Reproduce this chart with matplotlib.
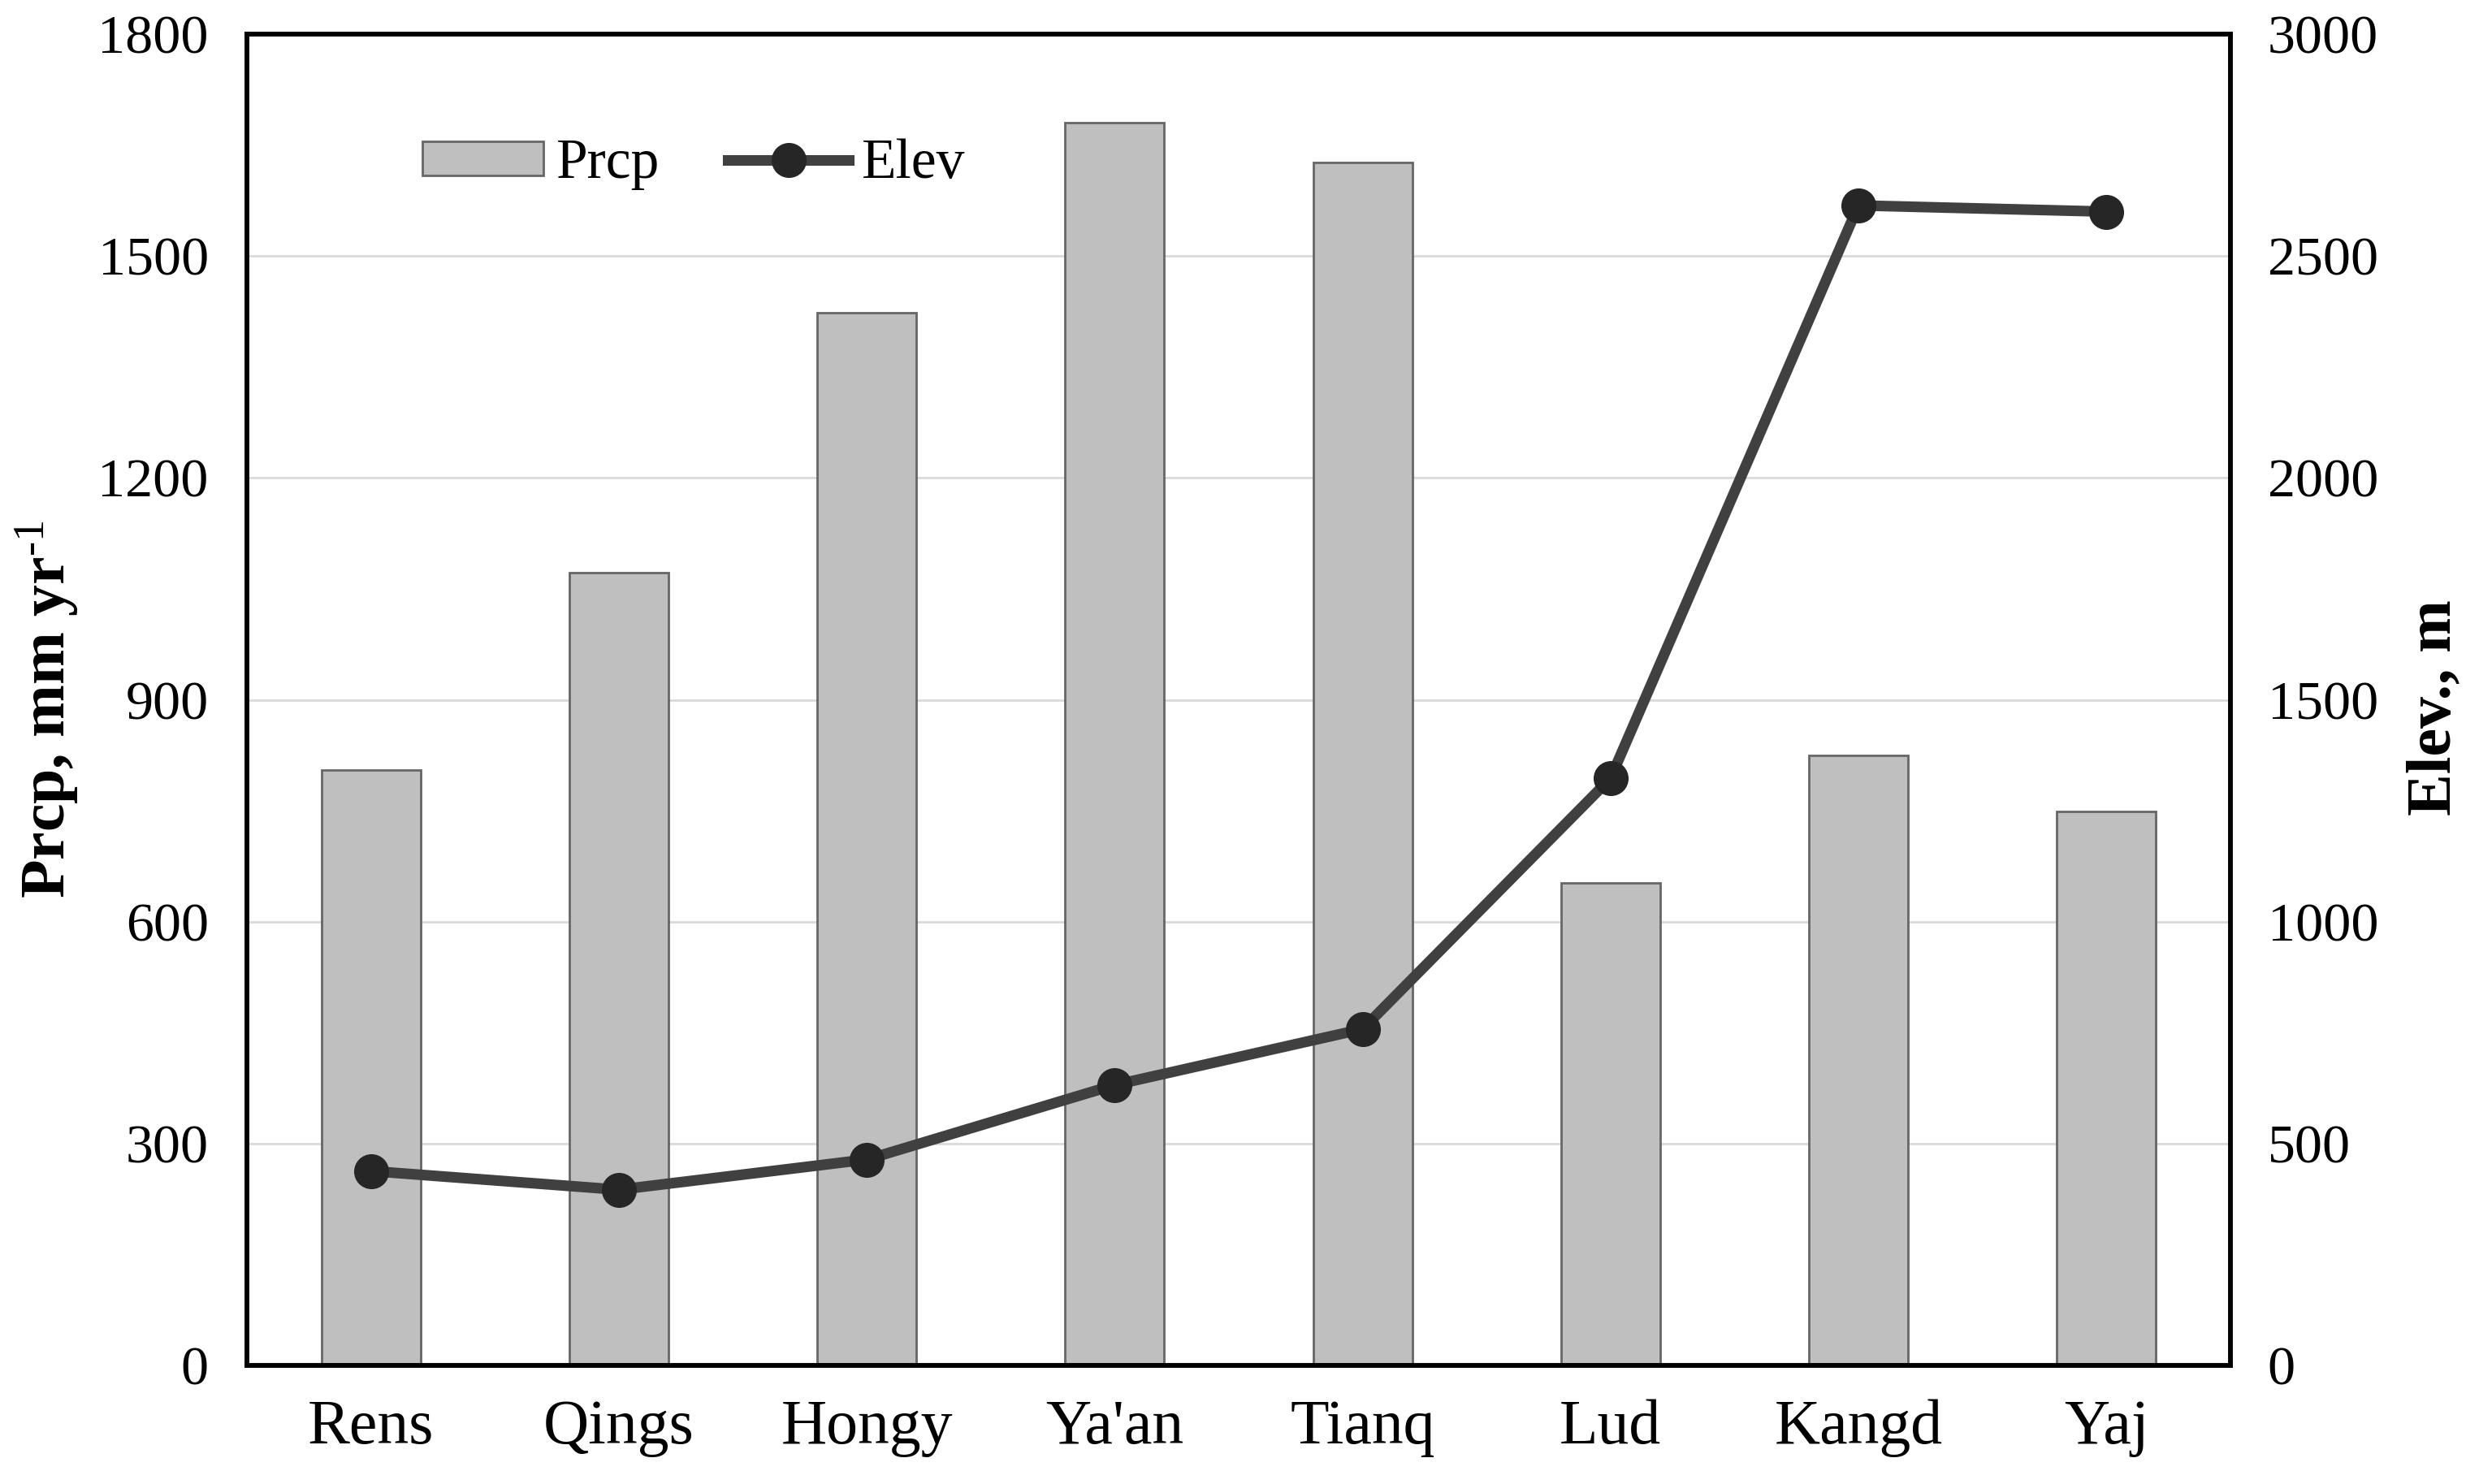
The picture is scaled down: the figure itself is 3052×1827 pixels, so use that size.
"""
Prcp (bars) and Elev (line) by station, two y axes
"""
import numpy as np
import matplotlib
matplotlib.use("Agg")
import matplotlib.pyplot as plt

plt.rcParams['font.family'] = ['Liberation Serif', 'DejaVu Serif']
plt.rcParams['mathtext.fontset'] = 'custom'
plt.rcParams['mathtext.rm'] = 'Liberation Serif'
plt.rcParams['mathtext.bf'] = 'Liberation Serif:bold'
plt.rcParams['mathtext.default'] = 'regular'

# Datos
stations = ["Rens", "Qings", "Hongy", "Ya'an", "Tianq", "Lud", "Kangd", "Yaj"]
prcp = [805, 1072, 1423, 1680, 1627, 652, 825, 749]      # mm/yr
elev = [438, 396, 464, 632, 758, 1323, 2614, 2600]       # m
prcp_ticks = [0, 300, 600, 900, 1200, 1500, 1800]
elev_ticks = [0, 500, 1000, 1500, 2000, 2500, 3000]

x = np.arange(len(stations))

fig = plt.figure(figsize=(15.26, 9.135), dpi=200)
ax = fig.add_axes([0.0996, 0.0799, 0.8001, 0.8971])
ax2 = ax.twinx()

# Barras de precipitación
bars = ax.bar(x, prcp, width=0.40, color='#bfbfbf', edgecolor='#666666',
              linewidth=1.0, zorder=2, label='Prcp')
ax.set_xlim(-0.5, len(stations) - 0.5)
ax.set_ylim(0, 1800)
ax.set_yticks(prcp_ticks)
ax.grid(axis='y', color='#d9d9d9', linewidth=1.0, zorder=0)
ax.set_axisbelow(True)
ax.set_xticks(x)
ax.set_xticklabels(stations, fontsize=28)
ax.tick_params(axis='x', length=0, pad=15)
ax.tick_params(axis='y', length=0, pad=17, labelsize=24.5)

# Línea de elevación
line, = ax2.plot(x, elev, color='#404040', linewidth=4.7, marker='o',
                 markersize=14.5, markerfacecolor='#262626',
                 markeredgecolor='#262626', zorder=3, label='Elev')
ax2.set_ylim(0, 3000)
ax2.set_yticks(elev_ticks)
ax2.tick_params(axis='y', length=0, pad=16.5, labelsize=24.5)

for a in (ax, ax2):
    for s in a.spines.values():
        s.set_linewidth(2.0)
        s.set_color('black')

ax.set_ylabel(r'Prcp, mm yr$^{\text{-1}}$', fontsize=28, fontweight='bold')
ax.yaxis.set_label_coords(-0.1007, 0.493)
ax.yaxis.label.set_verticalalignment('center')
ax2.set_ylabel('Elev., m', fontsize=28, fontweight='bold')
ax2.yaxis.set_label_coords(1.103, 0.494)
ax2.yaxis.label.set_verticalalignment('center')

ax2.legend([bars, line], ['Prcp', 'Elev'], loc='center left',
           bbox_to_anchor=(0.0885, 0.902), ncol=2, frameon=False,
           fontsize=25, borderpad=0, borderaxespad=0, handlelength=2.15,
           handleheight=0.56, handletextpad=0.23, columnspacing=1.2)

plt.savefig('out.png', dpi=200)
print("Gráfico guardado: out.png")
